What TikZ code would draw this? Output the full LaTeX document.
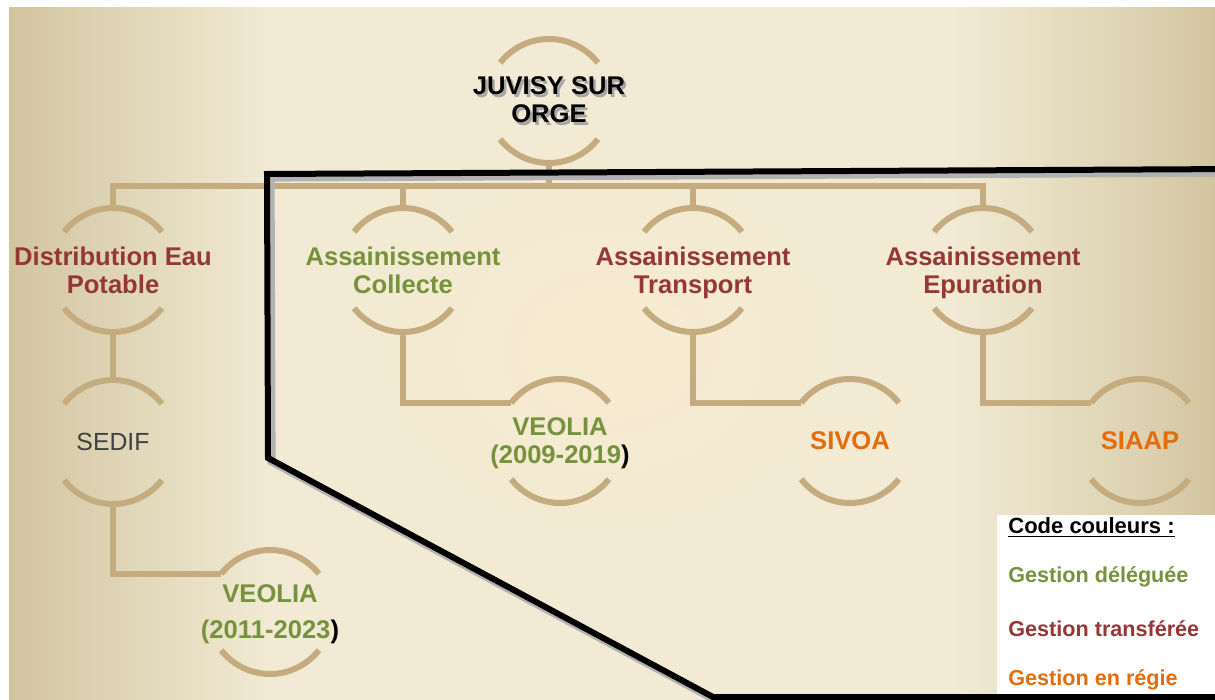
\documentclass[tikz,border=0pt]{standalone}
\usepackage{fontspec}
\setmainfont{Liberation Sans}
\usetikzlibrary{fadings}
\definecolor{OTan}{HTML}{C5AC80}
\definecolor{OGreen}{HTML}{76923C}
\definecolor{ORed}{HTML}{953735}
\definecolor{OOrange}{HTML}{E46C0A}
\definecolor{OGrey}{HTML}{404040}
\definecolor{BgEdge}{HTML}{D3C4A0}
\definecolor{BgSide}{HTML}{DFD5B6}
\definecolor{BgMid}{HTML}{F2EAD4}
\definecolor{BgWarm}{HTML}{FBEBCF}
\pgfdeclarehorizontalshading{bgshade}{100bp}{color(0bp)=(BgEdge); color(25bp)=(BgEdge);
  color(29.6bp)=(BgSide); color(36bp)=(BgMid); color(64bp)=(BgMid);
  color(71bp)=(BgSide); color(75bp)=(BgEdge); color(100bp)=(BgEdge)}
\tikzfading[name=warmfade,inner color=transparent!0,outer color=transparent!100]
\newcommand{\jshadow}[1]{\makebox[0pt][l]{\hspace{1.2pt}\raisebox{-1.2pt}{\textcolor{black!35}{#1}}}#1}
\newcommand{\nodepth}[1]{\raisebox{0pt}[\height][0pt]{#1}}

\begin{document}
\begin{tikzpicture}[
  x=0.5pt,y=-0.5pt,
  lbl/.style={font=\fontsize{12.8}{14}\selectfont\bfseries,align=center,inner sep=0pt},
  deleg/.style={lbl,text=OGreen},
  transf/.style={lbl,text=ORed},
  regie/.style={lbl,text=OOrange},
  ring/.style={draw=OTan,line width=3pt},
  link/.style={draw=OTan,line width=3.2pt},
  key/.style={anchor=west,inner sep=0pt,font=\fontsize{10.8}{13}\selectfont\bfseries},
  frame/.style={draw=black,line width=3pt}
]
  \useasboundingbox (0,0) rectangle (1215,700);
  \fill[white] (0,0) rectangle (1215,700);
  \shade[shading=bgshade] (9,8) rectangle (1215,700);
  \fill[BgWarm,path fading=warmfade,opacity=0.6] (610,350) ellipse [x radius=330,y radius=260];

  % top of the tree
  \node[lbl] (juv) at (549,101) {\jshadow{JUVISY SUR}\\\jshadow{ORGE}};

  % competences
  \node[transf] (dist) at (113,270) {Distribution Eau\\Potable};
  \node[deleg] (coll) at (403,270) {Assainissement\\Collecte};
  \node[transf] (trans) at (693,270) {Assainissement\\\nodepth{Transport}};
  \node[transf] (epur) at (983,270) {Assainissement\\\nodepth{Epuration}};

  % operators
  \node[lbl,font=\fontsize{12.4}{14}\selectfont,text=OGrey] (sedif) at (113,442) {SEDIF};
  \node[deleg] (veoc) at (560,441) {VEOLIA\\\nodepth{(2009-2019{\color{black})}}};
  \node[regie] (sivoa) at (850,441) {SIVOA};
  \node[regie] (siaap) at (1140,441) {SIAAP};
  \node[deleg] (veod) at (270,612) {VEOLIA\\[4pt]\nodepth{(2011-2023{\color{black})}}};

  % links
  \coordinate (bar) at (549,186);
  \draw[link] ([yshift=-31pt]juv.center) -- (bar);
  \foreach \n in {dist,coll,trans,epur}
    \draw[link] (bar) -| ([yshift=31pt]\n.center);
  \draw[link] ([yshift=-31pt]dist.center) -- ([yshift=31pt]sedif.center);
  \draw[link] ([yshift=-31pt]sedif.center) |- ([shift={(142:31pt)}]veod.center);
  \draw[link] ([yshift=-31pt]coll.center) |- ([shift={(142:31pt)}]veoc.center);
  \draw[link] ([yshift=-31pt]trans.center) |- ([shift={(142:31pt)}]sivoa.center);
  \draw[link] ([yshift=-31pt]epur.center) |- ([shift={(142:31pt)}]siaap.center);

  % rings
  \foreach \n in {juv,dist,coll,trans,epur,sedif,veoc,sivoa,siaap,veod} {
    \draw[ring] ([shift={(142:31pt)}]\n.center) arc[start angle=142,end angle=38,radius=31pt];
    \draw[ring] ([shift={(218:31pt)}]\n.center) arc[start angle=218,end angle=322,radius=31pt];
  }

  % legend
  \fill[white] (997,515) rectangle (1215,700);
  \node[key,font=\fontsize{11}{13}\selectfont\bfseries] (kcode) at (1008,528) {\underline{Code couleurs :}};
  \node[key,text=OGreen] (kdeleg) at (1008,577) {Gestion déléguée};
  \node[key,text=ORed] (ktransf) at (1008,629) {Gestion transférée};
  \node[key,text=OOrange] (kregie) at (1008,680) {Gestion en régie};

  % black frame
  \begin{scope}
    \clip (0,0) rectangle (1215,700);
    \draw[frame,black!30,line width=4pt,xshift=1.8pt,yshift=-1.8pt]
      (1240,169) -- (267,174) -- (268,458) -- (713,697) -- (1240,697);
    \draw[frame] (1240,169) -- (267,174) -- (268,458) -- (713,697) -- (1240,697);
  \end{scope}
\end{tikzpicture}
\end{document}
